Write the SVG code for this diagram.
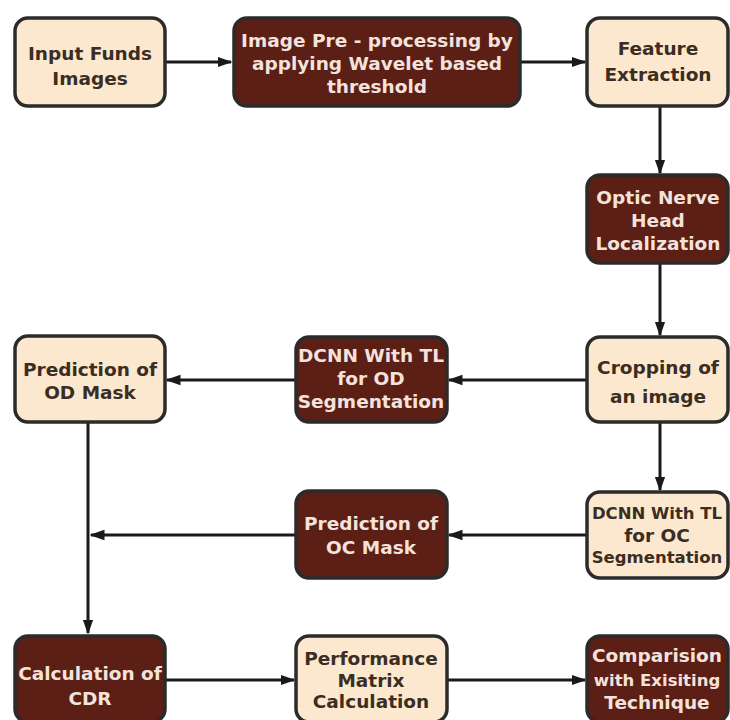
<svg xmlns="http://www.w3.org/2000/svg" width="730" height="720" viewBox="0 0 730 720">
<defs>
<marker id="ah" viewBox="0 0 10 10" refX="9" refY="5" markerWidth="5" markerHeight="5" orient="auto" markerUnits="strokeWidth">
<path d="M0,1.5 L10,5 L0,8.5 Z" fill="#1a1a1a"/>
</marker>
<style>
.light{fill:#fbe8cf;stroke:#2b2b2b;stroke-width:3.5}
.dark{fill:#5b1f16;stroke:#2b2b2b;stroke-width:3.5}
.tl{font-family:"DejaVu Sans","Liberation Sans",Arial,sans-serif;font-weight:bold;font-size:18.5px;fill:#3b2d22;text-anchor:middle}
.td{font-family:"DejaVu Sans","Liberation Sans",Arial,sans-serif;font-weight:bold;font-size:18.5px;fill:#f4e3dc;text-anchor:middle}
.sm{font-size:16.5px}
.c{fill:none;stroke:#1a1a1a;stroke-width:3}
</style>
</defs>
<rect width="730" height="720" fill="#ffffff"/>
<g id="connectors">
<line class="c" x1="165" y1="62" x2="231" y2="62" marker-end="url(#ah)"/>
<line class="c" x1="520" y1="62" x2="585" y2="62" marker-end="url(#ah)"/>
<line class="c" x1="660" y1="105" x2="660" y2="173" marker-end="url(#ah)"/>
<line class="c" x1="660" y1="263" x2="660" y2="335" marker-end="url(#ah)"/>
<line class="c" x1="587" y1="380" x2="449" y2="380" marker-end="url(#ah)"/>
<line class="c" x1="296" y1="380" x2="167" y2="380" marker-end="url(#ah)"/>
<line class="c" x1="660" y1="422" x2="660" y2="490" marker-end="url(#ah)"/>
<line class="c" x1="587" y1="535" x2="449" y2="535" marker-end="url(#ah)"/>
<line class="c" x1="296" y1="535" x2="91" y2="535" marker-end="url(#ah)"/>
<line class="c" x1="88" y1="422" x2="88" y2="633" marker-end="url(#ah)"/>
<line class="c" x1="165" y1="680" x2="294" y2="680" marker-end="url(#ah)"/>
<line class="c" x1="447" y1="680" x2="585" y2="680" marker-end="url(#ah)"/>
</g>
<g id="n1"><rect class="light" x="15" y="18" width="150" height="88" rx="13"/>
<text class="tl" x="90" y="60">Input Funds</text><text class="tl" x="90" y="85">Images</text></g>
<g id="n2"><rect class="dark" x="234" y="18" width="286" height="88" rx="13"/>
<text class="td" x="377" y="47">Image Pre - processing  by</text><text class="td" x="377" y="70">applying  Wavelet based</text><text class="td" x="377" y="93">threshold</text></g>
<g id="n3"><rect class="light" x="587" y="18" width="141" height="88" rx="13"/>
<text class="tl" x="658" y="55">Feature</text><text class="tl" x="658" y="81">Extraction</text></g>
<g id="n4"><rect class="dark" x="587" y="175" width="141" height="88" rx="13"/>
<text class="td" x="658" y="204">Optic Nerve</text><text class="td" x="658" y="227">Head</text><text class="td" x="658" y="250">Localization</text></g>
<g id="n5"><rect class="light" x="587" y="337" width="141" height="85" rx="13"/>
<text class="tl" x="658" y="374">Cropping of</text><text class="tl" x="658" y="403">an image</text></g>
<g id="n6"><rect class="dark" x="296" y="337" width="151" height="85" rx="13"/>
<text class="td" x="371" y="362">DCNN With TL</text><text class="td" x="371" y="385">for OD</text><text class="td" x="371" y="408">Segmentation</text></g>
<g id="n7"><rect class="light" x="15" y="336" width="150" height="86" rx="13"/>
<text class="tl" x="90" y="376">Prediction of</text><text class="tl" x="90" y="399">OD Mask</text></g>
<g id="n8"><rect class="light" x="587" y="492" width="141" height="86" rx="13"/>
<text class="tl sm" x="657" y="519">DCNN With TL</text><text class="tl" x="657" y="542">for OC</text><text class="tl sm" x="657" y="563">Segmentation</text></g>
<g id="n9"><rect class="dark" x="296" y="491" width="151" height="87" rx="13"/>
<text class="td" x="371" y="530">Prediction of</text><text class="td" x="371" y="554">OC Mask</text></g>
<g id="n10"><rect class="dark" x="15" y="636" width="150" height="86" rx="13"/>
<text class="td" x="90" y="680">Calculation of</text><text class="td" x="90" y="705">CDR</text></g>
<g id="n11"><rect class="light" x="296" y="636" width="151" height="86" rx="13"/>
<text class="tl" x="371" y="665">Performance</text><text class="tl" x="371" y="687">Matrix</text><text class="tl" x="371" y="708">Calculation</text></g>
<g id="n12"><rect class="dark" x="587" y="636" width="141" height="86" rx="13"/>
<text class="td" x="657" y="662">Comparision</text><text class="td sm" x="657" y="686">with Exisiting</text><text class="td" x="657" y="709">Technique</text></g>
</svg>
